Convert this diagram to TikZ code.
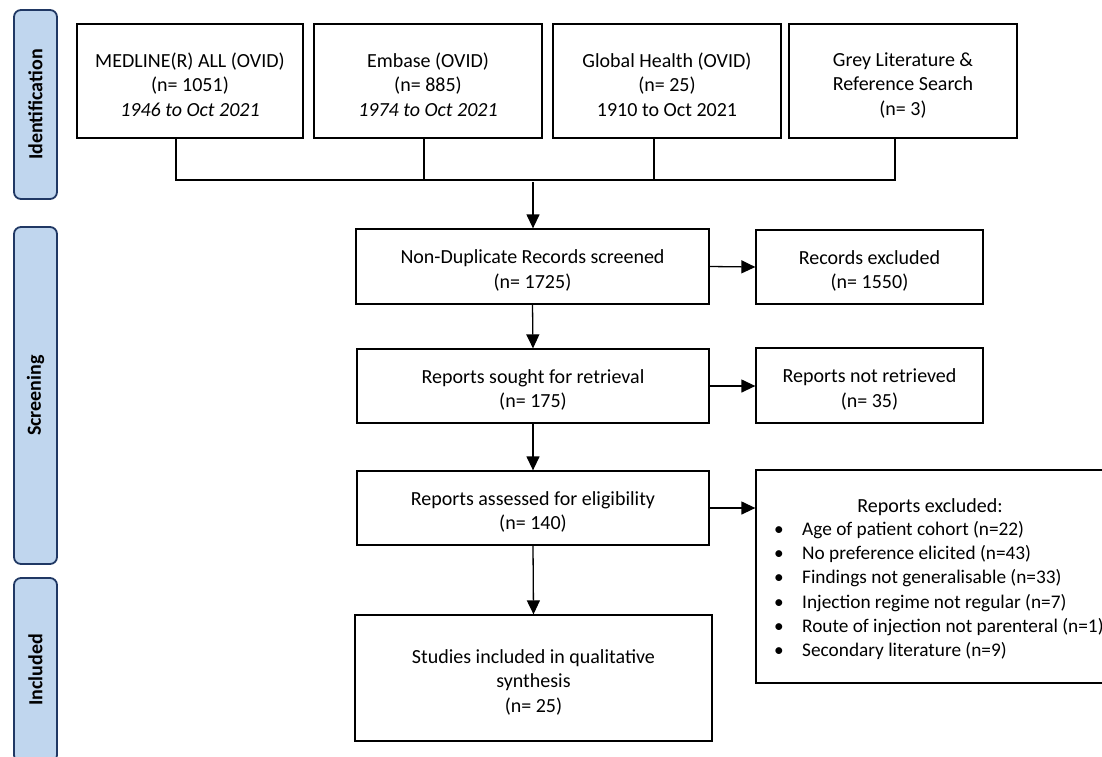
\documentclass[tikz,border=0pt]{standalone}
\usepackage{fontspec}
\setmainfont{Carlito}
\usetikzlibrary{arrows.meta}
\definecolor{phasefill}{RGB}{192,214,238}
\definecolor{phaseline}{RGB}{32,56,100}
\newcommand{\topstrut}{\rule{0pt}{22pt}}
\begin{document}
\begin{tikzpicture}[x=1pt,y=-1pt,
  box/.style={draw, line width=1.3pt, fill=white, align=center, inner sep=0pt, font=\fontsize{20}{24.4}\selectfont},
  phase/.style={draw=phaseline, fill=phasefill, line width=1.8pt, rounded corners=7pt, rotate=90, inner sep=0pt, minimum height=43pt, font=\fontsize{20}{24}\selectfont\bfseries},
  itemtxt/.style={anchor=base west, inner sep=0pt, font=\fontsize{19.3}{24}\selectfont},
  arr/.style={line width=1.3pt, -{Triangle[length=14pt,width=13pt]}},
  ln/.style={line width=1.3pt}]
\useasboundingbox (0,0) rectangle (1102,756);
\clip (0,0) rectangle (1102,756);
% phase bars
\node[phase, minimum width=189pt] (pid) at (35.5,104.5) {Identification};
\node[phase, minimum width=337pt] (psc) at (35.5,395.5) {Screening};
\node[phase, minimum width=184pt] (pin) at (35.5,670) {Included};
% identification boxes
\node[box, minimum width=226pt, minimum height=114pt] (b1) at (190,81) {\topstrut MEDLINE(R) ALL (OVID)\\(n= 1051)\\\textit{1946 to Oct 2021}};
\node[box, minimum width=228pt, minimum height=114pt] (b2) at (428,81) {\topstrut Embase (OVID)\\(n= 885)\\\textit{1974 to Oct 2021}};
\node[box, minimum width=228pt, minimum height=114pt] (b3) at (667,81) {\topstrut Global Health (OVID)\\(n= 25)\\1910 to Oct 2021};
\node[box, minimum width=228pt, minimum height=114pt] (b4) at (903,81) {\topstrut Grey Literature \&\\Reference Search\\(n= 3)};
% main column
\node[box, minimum width=353pt, minimum height=75pt] (nd) at (532.5,266.5) {\topstrut Non-Duplicate Records screened\\(n= 1725)};
\node[box, minimum width=352pt, minimum height=74pt] (rs) at (533,386) {\topstrut Reports sought for retrieval\\(n= 175)};
\node[box, minimum width=352pt, minimum height=74pt] (ra) at (533,508) {\topstrut Reports assessed for eligibility\\(n= 140)};
\node[box, minimum width=357pt, minimum height=126pt] (si) at (533.5,678) {\topstrut Studies included in qualitative\\synthesis\\(n= 25)};
% right column
\node[box, minimum width=227pt, minimum height=74pt] (re) at (869.5,267) {\topstrut Records excluded\\(n= 1550)};
\node[box, minimum width=227pt, minimum height=75pt] (nr) at (869.5,385.5) {\topstrut Reports not retrieved\\(n= 35)};
\node[box, minimum width=364pt, minimum height=213pt] (rx) at (938,576.5) {};
\node[itemtxt, anchor=base, font=\fontsize{20}{24}\selectfont] (rxt) at (930,512) {Reports excluded:};
\node[itemtxt] (rx1) at (774,535) {\makebox[28pt][l]{•}Age of patient cohort (n=22)};
\node[itemtxt] (rx2) at (774,559) {\makebox[28pt][l]{•}No preference elicited (n=43)};
\node[itemtxt] (rx3) at (774,583) {\makebox[28pt][l]{•}Findings not generalisable (n=33)};
\node[itemtxt] (rx4) at (774,608) {\makebox[28pt][l]{•}Injection regime not regular (n=7)};
\node[itemtxt] (rx5) at (774,632) {\makebox[28pt][l]{•}Route of injection not parenteral (n=1)};
\node[itemtxt] (rx6) at (774,656) {\makebox[28pt][l]{•}Secondary literature (n=9)};
% top connectors
\coordinate (j1) at (176,180);
\coordinate (j2) at (424,180);
\coordinate (j3) at (654,180);
\coordinate (j4) at (895,180);
\coordinate (jm) at (533,182);
\draw[ln] (b1.south -| j1) -- (j1) -- (j4) -- (b4.south -| j4);
\draw[ln] (b2.south -| j2) -- (j2);
\draw[ln] (b3.south -| j3) -- (j3);
\draw[arr] (jm) -- (nd.north -| jm);
% vertical arrows
\draw[arr] (nd.south) -- (rs.north);
\draw[arr] (rs.south) -- (ra.north);
\draw[arr] (ra.south) -- (si.north);
% horizontal arrows
\draw[arr] (nd.east) -- (re.west);
\draw[arr] (rs.east) -- (rs.east -| nr.west);
\draw[arr] (ra.east) -- (ra.east -| rx.west);
\end{tikzpicture}
\end{document}
